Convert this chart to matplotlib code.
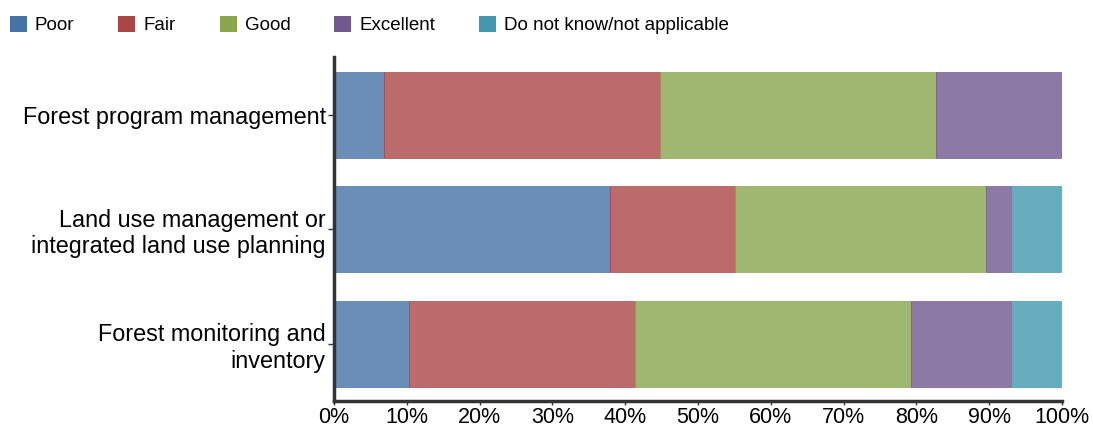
import numpy as np
import matplotlib.pyplot as plt
from matplotlib.patches import Patch

# Data (share of 29 respondents, %)
categories = ['Forest program management',
              'Land use management or\nintegrated land use planning',
              'Forest monitoring and\ninventory']
series_names = ['Poor', 'Fair', 'Good', 'Excellent', 'Do not know/not applicable']
poor = [6.9, 37.9, 10.3]
fair = [37.9, 17.2, 31.0]
good = [37.9, 34.5, 37.9]
excellent = [17.2, 3.4, 13.8]
dont_know = [0.0, 6.9, 6.9]
x_ticks = [0, 10, 20, 30, 40, 50, 60, 70, 80, 90, 100]

# Styles
COLORS = ['#4572A7', '#AA4643', '#89A54E', '#71588F', '#4198AF']
BAR_ALPHA = 0.8
BAR_HEIGHT = 0.75
SPINE_COLOR = '#333333'

plt.rcParams['font.family'] = ['Liberation Sans', 'DejaVu Sans']

fig = plt.figure(figsize=(10.93, 4.3), dpi=100)
ax = fig.add_axes([0.3056, 0.067, 0.666, 0.80])

values = [poor, fair, good, excellent, dont_know]
y = np.arange(len(categories))
left = np.zeros(len(categories))
for name, vals, color in zip(series_names, values, COLORS):
    vals = np.array(vals)
    ax.barh(y, vals, left=left, height=BAR_HEIGHT, color=color, alpha=BAR_ALPHA,
            edgecolor=color, linewidth=0.6, label=name)
    left += vals

ax.set_ylim(len(categories) - 0.5, -0.5)
ax.set_xlim(0, 100)
ax.set_yticks(y)
ax.set_yticklabels(categories, fontsize=16.8, color='black', linespacing=1.2)
ax.set_xticks(x_ticks)
ax.set_xticklabels([f'{t}%' for t in x_ticks], fontsize=15.5)

for side in ['top', 'right']:
    ax.spines[side].set_visible(False)
for side in ['left', 'bottom']:
    ax.spines[side].set_color(SPINE_COLOR)
    ax.spines[side].set_linewidth(2.5)
ax.tick_params(axis='both', direction='out', length=4, width=1, color=SPINE_COLOR, pad=2)
ax.tick_params(axis='x', length=3, pad=1)

# Legend
handles = [Patch(facecolor=c, edgecolor='none') for c in COLORS]
fig.legend(handles, series_names, loc='center left', bbox_to_anchor=(0.0091, 1 - 25 / 430),
           ncol=5, frameon=False, fontsize=13.5, handlelength=0.9, handleheight=0.95,
           handletextpad=0.43, columnspacing=2.35, borderpad=0, borderaxespad=0)

fig.savefig('out.png', dpi=100)
